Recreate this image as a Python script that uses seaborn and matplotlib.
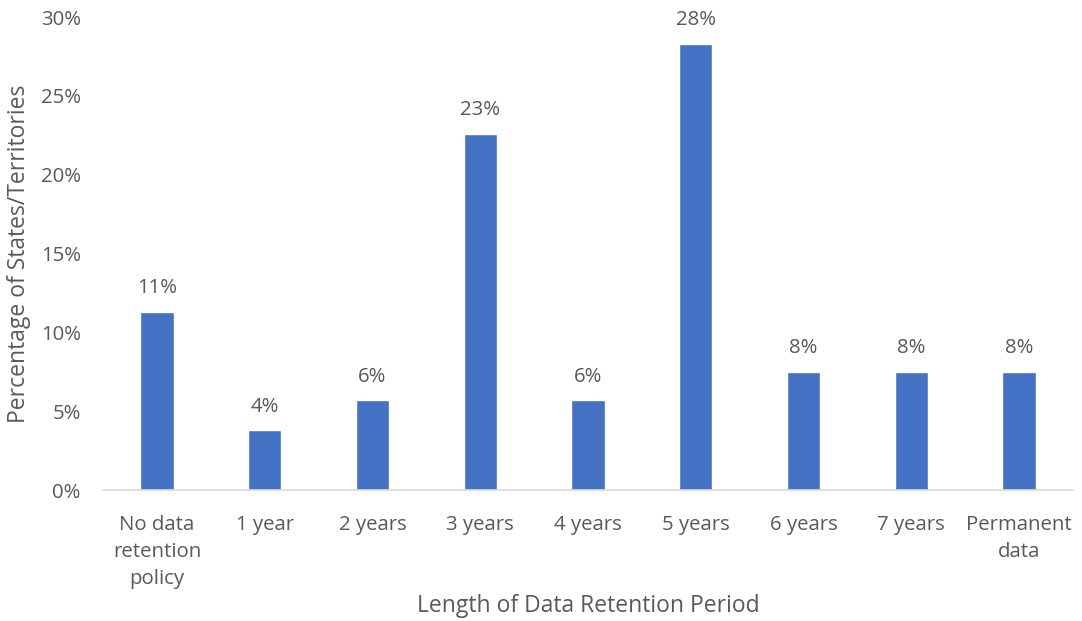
import matplotlib
matplotlib.use("Agg")
import matplotlib.pyplot as plt
import seaborn as sns
import pandas as pd
from matplotlib.ticker import FuncFormatter, MultipleLocator

categories = ["No data\nretention\npolicy", "1 year", "2 years", "3 years", "4 years",
              "5 years", "6 years", "7 years", "Permanent\ndata"]
percentages = [11.3, 3.8, 5.7, 22.6, 5.7, 28.3, 7.5, 7.5, 7.5]

sns.set_theme(style="white")
plt.rcParams["font.family"] = ["Open Sans", "DejaVu Sans"]

TEXT = "#595959"
BAR = "#4472C4"

df = pd.DataFrame({"period": categories, "pct": percentages})

fig = plt.figure(figsize=(10.82, 6.21), dpi=100)
ax = fig.add_axes([0.0952, 0.2109, 0.8965, 0.7617])

sns.barplot(data=df, x="period", y="pct", color=BAR, width=0.31,
            saturation=1, ax=ax)

for patch, v in zip(ax.patches, percentages):
    ax.text(patch.get_x() + patch.get_width() / 2, v + 0.85, f"{v:.0f}%",
            ha="center", va="bottom", fontsize=14.7, color=TEXT)

ax.set_ylim(0, 30)
ax.set_xlim(-0.5, len(categories) - 0.5)
ax.yaxis.set_major_locator(MultipleLocator(5))
ax.yaxis.set_major_formatter(FuncFormatter(lambda y, _: f"{y:.0f}%"))

for side in ["top", "right", "left"]:
    ax.spines[side].set_visible(False)
ax.spines["bottom"].set_color("#D9D9D9")
ax.spines["bottom"].set_linewidth(1.2)

ax.tick_params(axis="both", length=0, labelsize=14.7, colors=TEXT)
ax.tick_params(axis="x", pad=18)
ax.tick_params(axis="y", pad=16)
for lbl in ax.get_xticklabels():
    lbl.set_linespacing(1.45)

ax.set_xlabel("Length of Data Retention Period", fontsize=16.5, color=TEXT, va="center")
ax.set_ylabel("Percentage of States/Territories", fontsize=16.5, color=TEXT, va="center")
ax.xaxis.set_label_coords(0.5, -0.245)
ax.yaxis.set_label_coords(-0.087, 0.5)

fig.savefig("out.png", dpi=100)
